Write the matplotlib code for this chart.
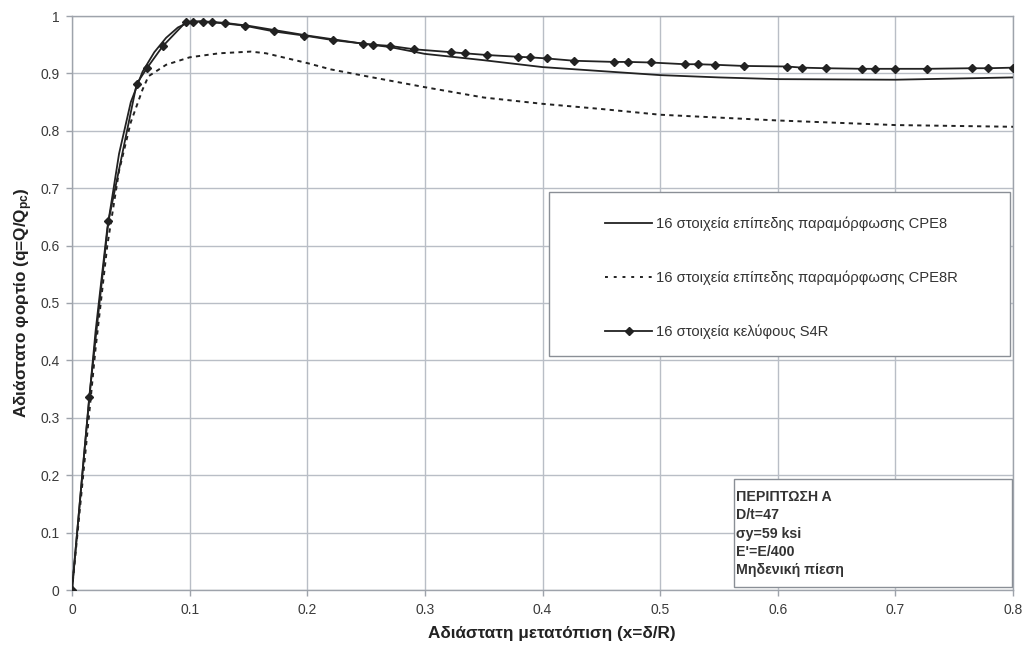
import matplotlib
matplotlib.use("Agg")
import matplotlib.pyplot as plt
from matplotlib.lines import Line2D
from matplotlib.patches import Rectangle

plt.rcParams['font.family'] = ['Liberation Sans', 'DejaVu Sans']
plt.rcParams['mathtext.fontset'] = 'custom'
plt.rcParams['mathtext.rm'] = 'Liberation Sans:bold'
plt.rcParams['mathtext.it'] = 'Liberation Sans:bold'
plt.rcParams['mathtext.bf'] = 'Liberation Sans:bold'

# CPE8 plane-strain model (solid)
cpe8_x = [0, 0.01, 0.02, 0.03, 0.04, 0.05, 0.06, 0.07, 0.08, 0.09, 0.10, 0.11,
          0.13, 0.15, 0.20, 0.25, 0.27, 0.30, 0.35, 0.40, 0.45, 0.50, 0.55,
          0.60, 0.70, 0.80]
cpe8_y = [0, 0.23, 0.45, 0.63, 0.76, 0.85, 0.903, 0.937, 0.962, 0.980, 0.990,
          0.991, 0.988, 0.983, 0.966, 0.951, 0.946, 0.934, 0.923, 0.911, 0.904,
          0.897, 0.893, 0.890, 0.889, 0.893]

# CPE8R plane-strain model, reduced integration (dotted)
cpe8r_x = [0, 0.01, 0.02, 0.03, 0.04, 0.05, 0.06, 0.065, 0.08, 0.10, 0.125,
           0.152, 0.165, 0.20, 0.22, 0.253, 0.30, 0.35, 0.40, 0.45, 0.50,
           0.60, 0.70, 0.80]
cpe8r_y = [0, 0.21, 0.42, 0.60, 0.73, 0.815, 0.872, 0.895, 0.915, 0.928, 0.935,
           0.938, 0.935, 0.918, 0.907, 0.894, 0.876, 0.858, 0.847, 0.838, 0.828,
           0.818, 0.810, 0.807]

# S4R shell model (solid with diamond markers)
s4r_x = [0, 0.0147, 0.031, 0.055, 0.064, 0.077, 0.097, 0.103, 0.111, 0.119,
         0.130, 0.147, 0.172, 0.197, 0.222, 0.247, 0.256, 0.270, 0.291, 0.322,
         0.334, 0.353, 0.379, 0.389, 0.404, 0.427, 0.461, 0.473, 0.492, 0.521,
         0.532, 0.547, 0.571, 0.608, 0.621, 0.641, 0.672, 0.683, 0.700, 0.727,
         0.765, 0.779, 0.800]
s4r_y = [0, 0.337, 0.643, 0.882, 0.910, 0.947, 0.990, 0.990, 0.990, 0.989,
         0.987, 0.983, 0.973, 0.966, 0.958, 0.952, 0.950, 0.948, 0.942, 0.937,
         0.935, 0.932, 0.929, 0.928, 0.926, 0.922, 0.920, 0.920, 0.919, 0.916,
         0.916, 0.915, 0.913, 0.912, 0.910, 0.909, 0.908, 0.908, 0.908, 0.908,
         0.909, 0.909, 0.910]

labels = ["16 στοιχεία επίπεδης παραμόρφωσης CPE8",
          "16 στοιχεία επίπεδης παραμόρφωσης CPE8R",
          "16 στοιχεία κελύφους S4R"]

x_ticks = [0, 0.1, 0.2, 0.3, 0.4, 0.5, 0.6, 0.7, 0.8]
x_ticklabels = ["0", "0.1", "0.2", "0.3", "0.4", "0.5", "0.6", "0.7", "0.8"]
y_ticks = [0, 0.1, 0.2, 0.3, 0.4, 0.5, 0.6, 0.7, 0.8, 0.9, 1.0]
y_ticklabels = ["0", "0.1", "0.2", "0.3", "0.4", "0.5", "0.6", "0.7", "0.8", "0.9", "1"]

case_lines = ["ΠΕΡΙΠΤΩΣΗ Α", "D/t=47", "σy=59 ksi", "E'=E/400", "Μηδενική πίεση"]

W, H = 1025, 651
fig = plt.figure(figsize=(W / 100, H / 100), dpi=100)
ax = fig.add_axes([72 / W, 1 - 590 / H, (1013 - 72) / W, (590 - 16) / H])

line_col = '#222222'
grid_col = '#b9bec6'

ax.plot(cpe8_x, cpe8_y, color=line_col, lw=1.3, zorder=3)
ax.plot(cpe8r_x, cpe8r_y, color=line_col, lw=1.4, ls=(0, (2.2, 2.2)), zorder=3)
ax.plot(s4r_x, s4r_y, color=line_col, lw=1.3, marker='D', ms=4.2,
        mfc=line_col, mec=line_col, zorder=4)

ax.set_xlim(0, 0.8)
ax.set_ylim(0, 1.0)
ax.set_xticks(x_ticks)
ax.set_xticklabels(x_ticklabels)
ax.set_yticks(y_ticks)
ax.set_yticklabels(y_ticklabels)
ax.grid(True, color=grid_col, lw=1.0, zorder=0)
for s in ax.spines.values():
    s.set_color('#9ea3ab')
    s.set_linewidth(1.0)
ax.tick_params(axis='both', colors='#9ea3ab', labelcolor='#3a3a3a',
               labelsize=10, length=4, width=1.0)
ax.tick_params(axis='x', pad=5)
ax.tick_params(axis='y', pad=5)

ax.set_xlabel("Αδιάστατη μετατόπιση (x=δ/R)", fontsize=12.3, fontweight='bold',
              color='#222222', x=0.51, labelpad=7)
ax.set_ylabel("Αδιάστατο φορτίο (q=Q/Q$_{pc}$)", fontsize=12.3, fontweight='bold',
              color='#222222', y=0.5, labelpad=4)

# legend frame and entries
to_ax = ax.transAxes.inverted()
def px2ax(px, py):
    return to_ax.transform(fig.transFigure.transform((px / W, 1 - py / H)))

lx0, ly0 = px2ax(549, 356)
lx1, ly1 = px2ax(1010, 192)
ax.add_patch(Rectangle((lx0, ly0), lx1 - lx0, ly1 - ly0, transform=ax.transAxes,
                       facecolor='white', edgecolor='#8a8f96', lw=1.0, zorder=5))

handles = [
    Line2D([], [], color=line_col, lw=1.3),
    Line2D([], [], color=line_col, lw=1.4, ls=(0, (1.5, 3.0))),
    Line2D([], [], color=line_col, lw=1.3, marker='D', ms=4.2),
]
lp = px2ax(605, 217)
leg = ax.legend(handles, labels, loc='upper left', bbox_to_anchor=tuple(lp),
                frameon=False, fontsize=10.6, handlelength=3.2, handletextpad=0.25,
                labelspacing=2.68, borderpad=0, borderaxespad=0)
leg.set_zorder(6)
for t in leg.get_texts():
    t.set_color('#333333')

# case description box
bx0, by0 = px2ax(734, 587)
bx1, by1 = px2ax(1012, 479)
ax.add_patch(Rectangle((bx0, by0), bx1 - bx0, by1 - by0, transform=ax.transAxes,
                       facecolor='white', edgecolor='#8a8f96', lw=1.0, zorder=5))
for i, s in enumerate(case_lines):
    tx, ty = px2ax(736, 497 + i * 18.3)
    ax.text(tx, ty, s, transform=ax.transAxes, fontsize=10.2, fontweight='bold',
            color='#333333', va='center', ha='left', zorder=6)

fig.savefig("out.png", dpi=100, facecolor='white')
